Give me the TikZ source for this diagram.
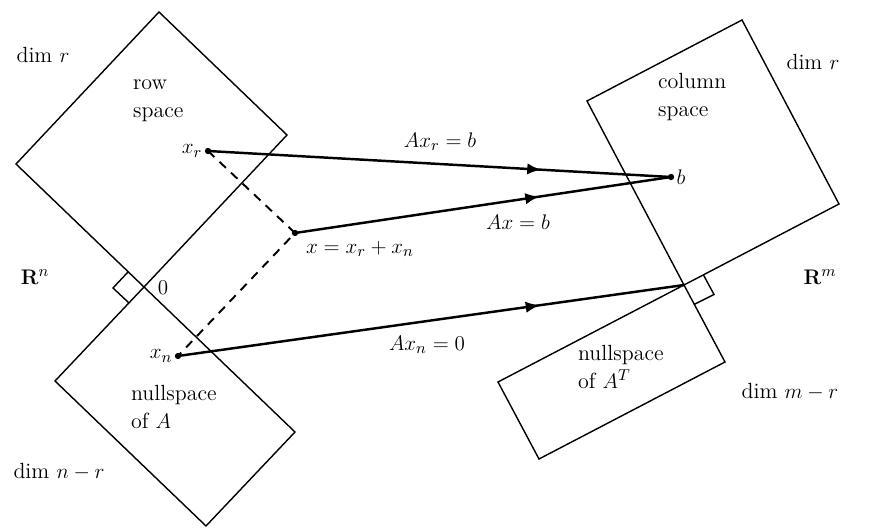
\documentclass[tikz,border=0pt]{standalone}
\usetikzlibrary{arrows.meta,decorations.markings}
\begin{document}
\begin{tikzpicture}[x=0.02cm,y=-0.02cm,
  subspace/.style={line width=0.8pt},
  mapto/.style={line width=1.4pt,postaction={decorate},
    decoration={markings,mark=at position #1 with {\arrow{Latex[length=8pt,width=6.5pt]}}}},
  proj/.style={line width=1.1pt,dash pattern=on 5pt off 4pt},
  vec/.style={circle,fill,inner sep=0pt,minimum size=3.6pt},
  lbl/.style={font=\fontsize{12.5}{16}\selectfont,inner sep=1pt},
  blk/.style={lbl,align=left,anchor=west}]
  \useasboundingbox (0,0) rectangle (880,530);

  % Row space and nullspace of A
  \coordinate (O1) at (144,287);
  \draw[subspace] (O1) -- (287,135) -- (159,12) -- (16,164) -- cycle;
  \draw[subspace] (O1) -- (55,381) -- (206,526) -- (295,432) -- cycle;
  \draw[subspace] (128,272) -- (113,288) -- (129,303);

  % Column space and nullspace of A^T
  \coordinate (O2) at (684,285);
  \draw[subspace] (O2) -- (839,204) -- (742,20) -- (587,101) -- cycle;
  \draw[subspace] (O2) -- (498,382) -- (539,459) -- (725,362) -- cycle;
  \draw[subspace] (703.5,275) -- (714,294.5) -- (694,304.5);

  % Vectors
  \node[vec,label={[lbl]left:$x_r$}] (xr) at (208,151) {};
  \node[vec] (x) at (295,233) {};
  \node[vec,label={[lbl]left:$x_n$}] (xn) at (178,356) {};
  \node[vec,label={[lbl]right:$b$}] (b) at (671,177) {};
  \node[lbl,anchor=west] (xsum) at (304,249) {$x = x_r + x_n$};

  % Left side labels
  \node[lbl] (dimr1) at (43,55) {dim $r$};
  \node[blk] (row) at (131,101) {row\\space};
  \node[lbl] (Rn) at (35,277) {$\mathbf{R}^n$};
  \node[lbl] (zero) at (163,288) {$0$};
  \node[blk] (null) at (129,407) {nullspace\\of $A$};
  \node[lbl] (dimnr) at (59,472) {dim $n-r$};

  % Right side labels
  \node[lbl] (dimr2) at (813,62) {dim $r$};
  \node[blk] (col) at (656,97) {column\\space};
  \node[lbl] (Rm) at (820,277) {$\mathbf{R}^m$};
  \node[blk] (lnull) at (576,367) {nullspace\\of $A^T$};
  \node[lbl] (dimmr) at (790,392) {dim $m-r$};

  % Projections
  \draw[proj] (xr.center) -- (x.center) -- (xn.center);

  % Maps
  \draw[mapto=0.72] (xr.center) -- (b.center);
  \draw[mapto=0.65] (x.center) -- (b.center);
  \draw[mapto=0.715] (xn.center) -- (O2);
  \node[lbl] (Axr) at (440,142) {$Ax_r = b$};
  \node[lbl] (Ax) at (518,222) {$Ax = b$};
  \node[lbl] (Axn) at (427,345) {$Ax_n = 0$};
\end{tikzpicture}
\end{document}
